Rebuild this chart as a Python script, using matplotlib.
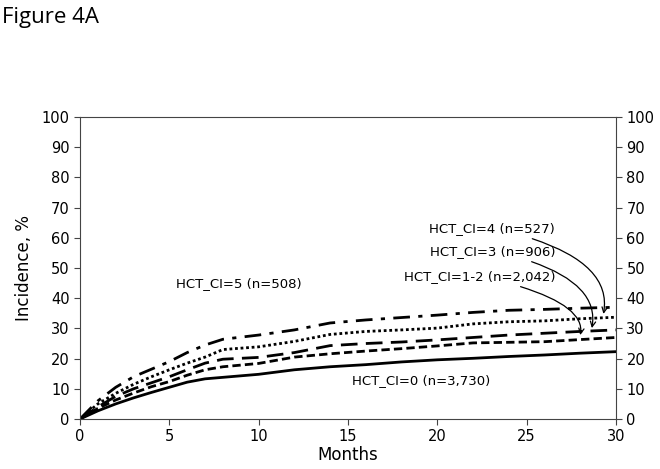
import matplotlib
matplotlib.use("Agg")
from matplotlib import pyplot as plt

# months grid used for all curves
months = [0, 1, 2, 3, 4, 5, 6, 7, 8, 10, 12, 14, 16, 18, 20, 22, 24, 26, 28, 30]

ci_0 = [0, 2.7, 5.0, 7.0, 8.8, 10.5, 12.2, 13.3, 13.8, 14.8, 16.3, 17.3, 18.0, 18.9, 19.6, 20.1, 20.7, 21.2, 21.8, 22.3]
ci_12 = [0, 3.5, 6.3, 8.6, 10.7, 12.4, 14.5, 16.3, 17.3, 18.4, 20.5, 21.6, 22.5, 23.3, 24.2, 25.2, 25.4, 25.6, 26.3, 27.0]
ci_3 = [0, 4.0, 7.5, 10.0, 12.0, 14.0, 16.3, 18.5, 19.8, 20.4, 22.0, 24.3, 25.0, 25.5, 26.2, 27.0, 27.8, 28.4, 29.0, 29.5]
ci_4 = [0, 5.0, 8.5, 11.5, 14.0, 16.3, 18.5, 20.5, 23.0, 23.9, 25.7, 28.0, 29.0, 29.5, 30.1, 31.5, 32.2, 32.5, 33.2, 33.7]
ci_5 = [0, 6.0, 10.5, 14.0, 16.5, 19.0, 22.0, 24.5, 26.4, 27.8, 29.5, 31.8, 32.8, 33.6, 34.4, 35.3, 36.0, 36.3, 36.7, 37.0]

x_ticks = [0, 5, 10, 15, 20, 25, 30]
y_ticks = list(range(0, 101, 10))

fig = plt.figure(figsize=(6.6, 4.69), dpi=100)
ax = fig.add_axes([0.1212, 0.1066, 0.8121, 0.6439])

lw = 2
ax.plot(months, ci_0, color="k", lw=lw, linestyle="-")
ax.plot(months, ci_12, color="k", lw=lw, linestyle=(0, (3, 1.5)))
ax.plot(months, ci_3, color="k", lw=lw, linestyle=(0, (6, 3)))
ax.plot(months, ci_4, color="k", lw=lw, linestyle=(0, (1, 1)))
ax.plot(months, ci_5, color="k", lw=lw, linestyle=(0, (6, 3, 1.5, 3)))

ax.set_xlim(0, 30)
ax.set_ylim(0, 100)
ax.set_xticks(x_ticks)
ax.set_yticks(y_ticks)
ax.tick_params(axis="both", direction="out", length=4, labelsize=10.5, color="#444444")
ax.tick_params(axis="y", right=True, labelright=True)
for s in ax.spines.values():
    s.set_color("#444444")

ax.set_xlabel("Months", fontsize=12, labelpad=1)
ax.set_ylabel("Incidence, %", fontsize=12, labelpad=6)

fs = 9.5
ax.text(8.9, 45, "HCT_CI=5 (n=508)", fontsize=fs, ha="center", va="center")
ax.text(19.1, 12.6, "HCT_CI=0 (n=3,730)", fontsize=fs, ha="center", va="center")

arrow_kw = dict(arrowstyle="->", color="k", lw=0.9, shrinkA=3, shrinkB=0,
                connectionstyle="angle3,angleA=-12,angleB=80")
ax.annotate("HCT_CI=4 (n=527)", xy=(29.3, 34.8), xytext=(26.6, 63.2), fontsize=fs,
            ha="right", va="center", arrowprops=arrow_kw)
ax.annotate("HCT_CI=3 (n=906)", xy=(28.65, 30.1), xytext=(26.6, 55.6), fontsize=fs,
            ha="right", va="center", arrowprops=arrow_kw)
ax.annotate("HCT_CI=1-2 (n=2,042)", xy=(28.0, 27.8), xytext=(26.6, 47.3), fontsize=fs,
            ha="right", va="center", arrowprops=arrow_kw)

fig.text(0.003, 0.985, "Figure 4A", fontsize=16, family="Open Sans", ha="left", va="top")

fig.savefig("out.png", dpi=100)
